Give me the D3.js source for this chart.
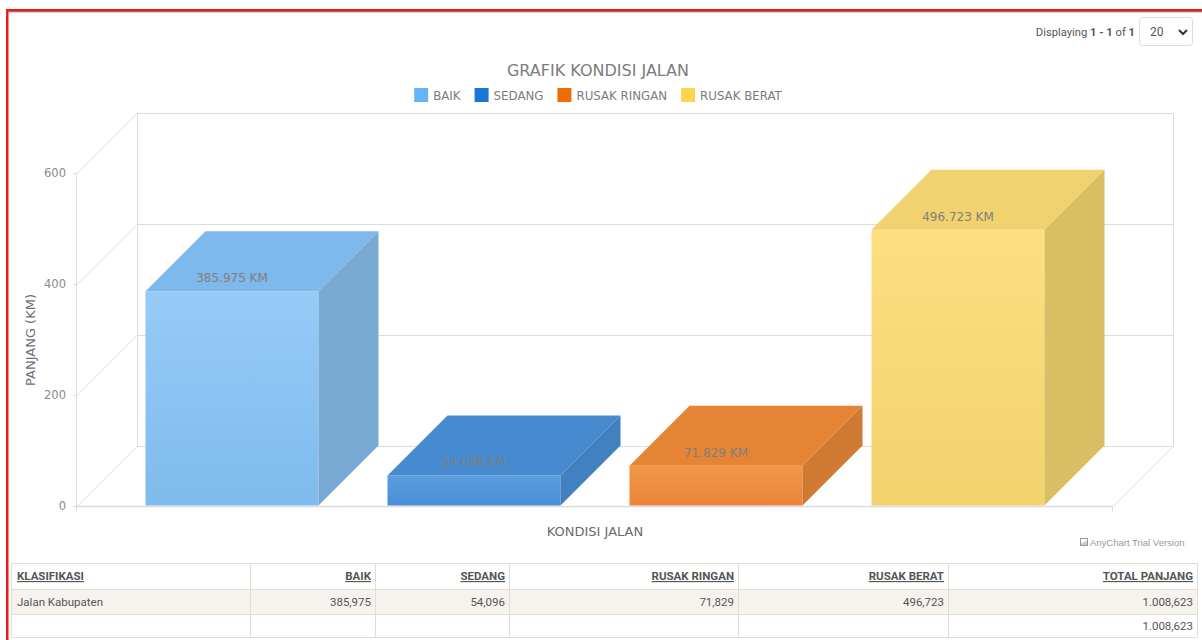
<!DOCTYPE html>
<html>
<head>
<meta charset="utf-8">
<script src="https://cdn.jsdelivr.net/npm/d3@7"></script>
<style>
  body { margin: 0; background: #fff; }
  svg { display: block; }
  .axis-text { font-family: Verdana, "DejaVu Sans", sans-serif; }
  .tbl { font-family: Roboto, "Liberation Sans", sans-serif; font-size: 11.5px; fill: #555; }
</style>
</head>
<body>
<svg id="chart"></svg>
<script>
// data
var categories = ["BAIK", "SEDANG", "RUSAK RINGAN", "RUSAK BERAT"];
var values = [385.975, 54.096, 71.829, 496.723];
var yTicks = [0, 200, 400, 600];
var rowLabels = ["Jalan Kabupaten"];
var headers = ["KLASIFIKASI", "BAIK", "SEDANG", "RUSAK RINGAN", "RUSAK BERAT", "TOTAL PANJANG"];

// palette
var legendColors = ["#64b5f6", "#1976d2", "#ef6c00", "#ffd54f"];
var frontTop = ["#97caf7", "#5a9ee0", "#f2964a", "#fcdf80"];
var frontBottom = ["#7fbbec", "#4a8ed6", "#e9853a", "#f2d26d"];
var topFace = ["#7fb8ea", "#468bd0", "#e58434", "#f0d26e"];
var sideFace = ["#78aad4", "#4280bf", "#cf7932", "#d9be64"];

var w = 1202, h = 640;
var depth = {x: 60, y: -60};
var plot = {left: 77, right: 1113};

var svg = d3.select("#chart").attr("width", w).attr("height", h);

// red frame
svg.append("rect").attr("x", 6).attr("y", 9).attr("width", w - 6).attr("height", 2.5).attr("fill", "#f01818");
svg.append("line").attr("x1", 9).attr("x2", w).attr("y1", 11.8).attr("y2", 11.8).attr("stroke", "#6a4a4a").attr("stroke-width", 0.8);
svg.append("rect").attr("x", 6).attr("y", 9).attr("width", 2.5).attr("height", h - 9).attr("fill", "#f01818");

// paging controls
var pg = svg.append("text").attr("class", "tbl").attr("x", 1135).attr("y", 36)
  .attr("text-anchor", "end").style("font-size", "11.2px").attr("fill", "#444");
pg.append("tspan").text("Displaying ");
pg.append("tspan").attr("font-weight", "bold").text("1 - 1");
pg.append("tspan").text(" of ");
pg.append("tspan").attr("font-weight", "bold").text("1");
svg.append("rect").attr("x", 1139.5).attr("y", 17.5).attr("width", 53).attr("height", 28).attr("rx", 3)
  .attr("fill", "#fff").attr("stroke", "#e2ddd3");
svg.append("text").attr("class", "tbl").attr("x", 1150).attr("y", 36).style("font-size", "12px").attr("fill", "#333").text("20");
svg.append("path").attr("d", "M1179,30 L1183,34 L1187,30").attr("fill", "none").attr("stroke", "#333").attr("stroke-width", 2);

// scales
var y = d3.scaleLinear().domain([0, 600]).range([505.5, 172.5]);
var x = d3.scaleBand().domain(categories).range([111, 1079]).paddingInner(0.285).paddingOuter(0.1425);

// title
svg.append("text").attr("class", "axis-text").attr("x", 598).attr("y", 76).attr("text-anchor", "middle")
  .style("font-size", "16px").attr("fill", "#7c7c7c").text("GRAFIK KONDISI JALAN");

// legend
var legend = svg.append("g");
var lx = 0;
categories.forEach(function(c, i) {
  var g = legend.append("g").attr("transform", "translate(" + lx + ",0)");
  g.append("rect").attr("x", 0).attr("y", 88).attr("width", 14).attr("height", 14).attr("fill", legendColors[i]);
  var t = g.append("text").attr("class", "axis-text").attr("x", 19).attr("y", 99.5)
    .style("font-size", "11.8px").attr("fill", "#7c7c7c").text(c);
  lx += 19 + t.node().getComputedTextLength() + 14;
});
legend.attr("transform", "translate(" + (598 - (lx - 14) / 2) + ",0)");

// grid / walls
var gridColor = "#dcdcdc";
var grid = svg.append("g").attr("stroke", gridColor).attr("stroke-width", 1).attr("fill", "none");
yTicks.forEach(function(t) {
  var yy = Math.round(y(t)) + 0.5;
  grid.append("line").attr("x1", plot.left + depth.x).attr("x2", plot.right + depth.x)
    .attr("y1", yy + depth.y).attr("y2", yy + depth.y);
  grid.append("line").attr("x1", plot.left).attr("x2", plot.left + depth.x)
    .attr("y1", yy).attr("y2", yy + depth.y);
  grid.append("line").attr("x1", plot.left - 4).attr("x2", plot.left).attr("y1", yy).attr("y2", yy);
});
var y0 = Math.round(y(0)) + 0.5, yTop = Math.round(y(600)) + 0.5;
grid.append("line").attr("x1", plot.left + depth.x + 0.5).attr("x2", plot.left + depth.x + 0.5)
  .attr("y1", yTop + depth.y).attr("y2", y0 + depth.y);
grid.append("line").attr("x1", plot.right + depth.x + 0.5).attr("x2", plot.right + depth.x + 0.5)
  .attr("y1", yTop + depth.y).attr("y2", y0 + depth.y);
grid.append("line").attr("x1", plot.left - 0.5).attr("x2", plot.left - 0.5).attr("y1", yTop).attr("y2", y0 + 5);
grid.append("line").attr("x1", plot.left).attr("x2", plot.right).attr("y1", y0).attr("y2", y0).attr("stroke-width", 1.5);
grid.append("line").attr("x1", plot.right).attr("x2", plot.right + depth.x).attr("y1", y0).attr("y2", y0 + depth.y);
grid.append("line").attr("x1", plot.right - 0.5).attr("x2", plot.right - 0.5).attr("y1", y0).attr("y2", y0 + 5);

// y axis labels
svg.selectAll(".ytick").data(yTicks).enter().append("text")
  .attr("class", "axis-text").attr("x", 66).attr("y", function(d) { return y(d) + 4; })
  .attr("text-anchor", "end").style("font-size", "11.5px").attr("fill", "#8a8a8a")
  .text(function(d) { return d; });

svg.append("text").attr("class", "axis-text")
  .attr("transform", "translate(35,340) rotate(-90)").attr("text-anchor", "middle")
  .style("font-size", "13px").attr("fill", "#707070").text("PANJANG (KM)");

svg.append("text").attr("class", "axis-text").attr("x", 595).attr("y", 536).attr("text-anchor", "middle")
  .style("font-size", "13px").attr("fill", "#6a6a6a").text("KONDISI JALAN");

// gradients
var defs = svg.append("defs");
categories.forEach(function(c, i) {
  var lg = defs.append("linearGradient").attr("id", "grad" + i).attr("x1", 0).attr("x2", 0).attr("y1", 0).attr("y2", 1);
  lg.append("stop").attr("offset", "0%").attr("stop-color", frontTop[i]);
  lg.append("stop").attr("offset", "100%").attr("stop-color", frontBottom[i]);
});

// 3d bars
var bars = svg.selectAll(".bar").data(values).enter().append("g").attr("class", "bar");
bars.append("rect")
  .attr("x", function(d, i) { return x(categories[i]); })
  .attr("y", function(d) { return y(d); })
  .attr("width", x.bandwidth())
  .attr("height", function(d) { return y(0) - y(d); })
  .attr("fill", function(d, i) { return "url(#grad" + i + ")"; });
bars.append("path")
  .attr("d", function(d, i) {
    var x0 = x(categories[i]), x1 = x0 + x.bandwidth(), yt = y(d);
    return "M" + x0 + "," + yt + "L" + (x0 + depth.x) + "," + (yt + depth.y) +
      "L" + (x1 + depth.x) + "," + (yt + depth.y) + "L" + x1 + "," + yt + "Z";
  })
  .attr("fill", function(d, i) { return topFace[i]; });
bars.append("path")
  .attr("d", function(d, i) {
    var x1 = x(categories[i]) + x.bandwidth(), yt = y(d), yb = y(0);
    return "M" + x1 + "," + yt + "L" + (x1 + depth.x) + "," + (yt + depth.y) +
      "L" + (x1 + depth.x) + "," + (yb + depth.y) + "L" + x1 + "," + yb + "Z";
  })
  .attr("fill", function(d, i) { return sideFace[i]; });

// value labels
svg.selectAll(".vlabel").data(values).enter().append("text")
  .attr("class", "axis-text")
  .attr("x", function(d, i) { return x(categories[i]) + x.bandwidth() / 2; })
  .attr("y", function(d) { return y(d) - 9; })
  .attr("text-anchor", "middle").style("font-size", "12px").attr("fill", "#7f7f7f")
  .text(function(d) { return d3.format(".3f")(d) + " KM"; });

// trial text
svg.append("rect").attr("x", 1080.5).attr("y", 538.5).attr("width", 7).attr("height", 7).attr("fill", "none").attr("stroke", "#999");
[1, 3, 5].forEach(function(o, k) {
  svg.append("rect").attr("x", 1081.5 + k * 2).attr("y", 543 - k).attr("width", 1).attr("height", 2 + k).attr("fill", "#999");
});
svg.append("text").attr("x", 1090).attr("y", 546).style("font-family", "'Liberation Sans', Arial, sans-serif")
  .style("font-size", "9.5px").attr("fill", "#999").text("AnyChart Trial Version");

// table
var id = d3.formatLocale({decimal: ",", thousands: ".", grouping: [3]});
var fmt = id.format(",.3f");
var total = d3.sum(values);
var cols = [11, 250, 375, 509, 738, 948, 1197];
var rows = [563, 589, 614, 637];
var tbl = svg.append("g");
tbl.append("rect").attr("x", cols[0]).attr("y", rows[1]).attr("width", cols[6] - cols[0]).attr("height", rows[2] - rows[1]).attr("fill", "#f6f3ee");
rows.forEach(function(r) {
  tbl.append("line").attr("x1", cols[0]).attr("x2", cols[6]).attr("y1", r + 0.5).attr("y2", r + 0.5).attr("stroke", "#e2ddd3");
});
cols.forEach(function(c) {
  tbl.append("line").attr("x1", c + 0.5).attr("x2", c + 0.5).attr("y1", rows[0]).attr("y2", rows[3]).attr("stroke", "#e2ddd3");
});
headers.forEach(function(hd, i) {
  tbl.append("text").attr("class", "tbl")
    .attr("x", i === 0 ? cols[0] + 6 : cols[i + 1] - 4).attr("y", 580)
    .attr("text-anchor", i === 0 ? "start" : "end")
    .attr("font-weight", "bold").attr("text-decoration", "underline").text(hd);
});
var rowVals = [rowLabels[0]].concat(values.map(fmt), [fmt(total)]);
rowVals.forEach(function(v, i) {
  tbl.append("text").attr("class", "tbl")
    .attr("x", i === 0 ? cols[0] + 6 : cols[i + 1] - 4).attr("y", 606)
    .attr("text-anchor", i === 0 ? "start" : "end").text(v);
});
tbl.append("text").attr("class", "tbl").attr("x", cols[6] - 4).attr("y", 630).attr("text-anchor", "end").text(fmt(total));
</script>
</body>
</html>
